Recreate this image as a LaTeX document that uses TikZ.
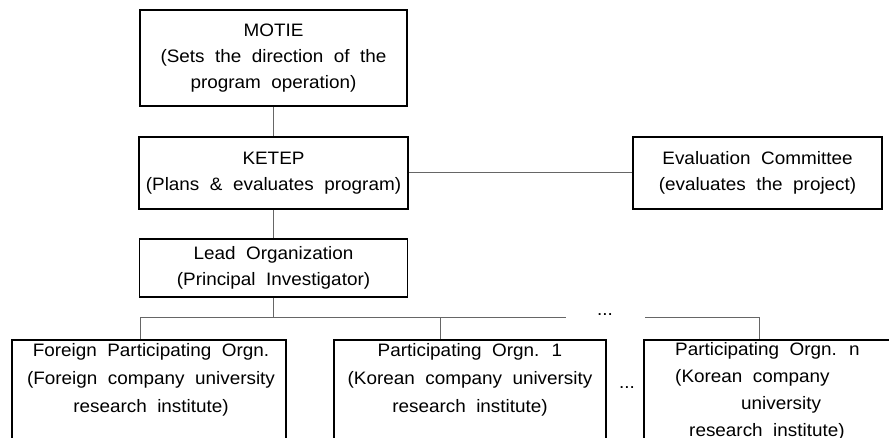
\documentclass[tikz,border=0pt]{standalone}
\usepackage{fontspec}
\setmainfont[FakeStretch=1.05]{Liberation Sans}
\newcommand{\diagfont}{\fontsize{18}{26}\selectfont\spaceskip=10.5pt plus 2pt minus 1pt\relax}
\newcommand{\lowfont}{\fontsize{18}{28}\selectfont\spaceskip=10.5pt plus 2pt minus 1pt\relax}
\newcommand{\pnfont}{\fontsize{18}{27}\selectfont\spaceskip=10.5pt plus 2pt minus 1pt\relax}
\begin{document}
\begin{tikzpicture}[x=1pt,y=-1pt,
  box/.style={draw=black, line width=1.8pt, inner sep=0pt, align=center, font=\diagfont},
  lowbox/.style={draw=black, line width=1.8pt, inner sep=0pt},
  lowtext/.style={inner sep=0pt, align=center, font=\lowfont},
  conn/.style={draw=black!60, line width=1pt},
  dots/.style={inner sep=0pt, font=\fontsize{18}{20}\selectfont}]
\useasboundingbox (0,0) rectangle (889,438);
\clip (0,0) rectangle (889,438);
% top boxes
\node[box, minimum width=267, minimum height=96] (motie) at (273.5,58)
  {MOTIE\\(Sets the direction of the\\program operation)};
\node[box, minimum width=269, minimum height=72] (ketep) at (273.5,173)
  {KETEP\\(Plans \& evaluates program)};
\node[box, minimum width=249, minimum height=72] (eval) at (757.5,173)
  {Evaluation Committee\\(evaluates the project)};
\node[box, minimum width=268, minimum height=58] (lead) at (273.5,268)
  {Lead Organization\\(Principal Investigator)};
% bottom boxes (cut by the lower edge)
\node[lowbox, minimum width=274, minimum height=130] (foreign) at (149,405) {};
\node[lowbox, minimum width=272, minimum height=130] (p1) at (470,405) {};
\node[lowbox, minimum width=260, minimum height=130] (pn) at (774,405) {};
\node[lowtext] (foreignt) at (151,380)
  {Foreign Participating Orgn.\\(Foreign company university\\research institute)};
\node[lowtext] (p1t) at (470,380)
  {Participating Orgn. 1\\(Korean company university\\research institute)};
\node[inner sep=0pt, align=left, font=\pnfont, anchor=north west] (pnt) at (675,342.5)
  {Participating Orgn. n\\(Korean company\\\rule{66pt}{0pt}university\\\rule{14pt}{0pt}research institute)};
% connectors
\draw[conn] (motie) -- (ketep);
\draw[conn] (ketep) -- (eval);
\draw[conn] (ketep) -- (lead);
\coordinate (busL) at (140,318);
\coordinate (busM) at (440,318);
\coordinate (busA) at (566,318);
\coordinate (busB) at (645,318);
\coordinate (busR) at (759,318);
\draw[conn] (lead.south) -- (lead.south |- busL);
\draw[conn] (foreign.north -| busL) -- (busL) -- (busA);
\draw[conn] (busM) -- (p1.north -| busM);
\draw[conn] (busB) -- (busR) -- (pn.north -| busR);
\node[dots] (dotsA) at (605,315) {...};
\node[dots] (dotsB) at (627,388) {...};
\end{tikzpicture}
\end{document}
